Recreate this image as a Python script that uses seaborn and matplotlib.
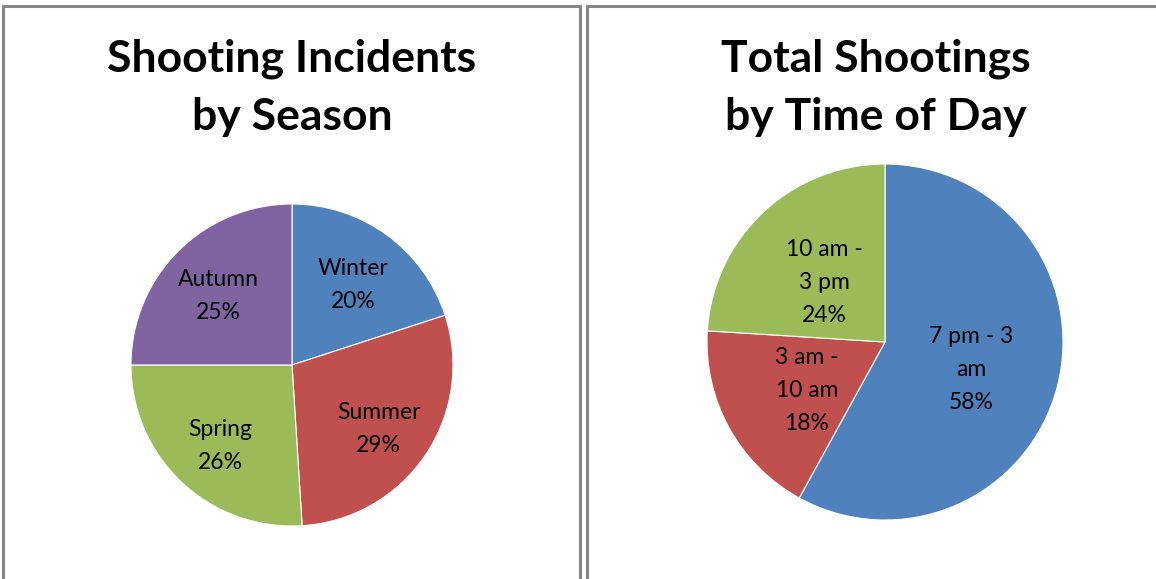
import numpy as np
import matplotlib
matplotlib.use("Agg")
import matplotlib.pyplot as plt
import seaborn as sns
from matplotlib.patches import Rectangle

####Data#######################################################################
season_labels = ["Winter", "Summer", "Spring", "Autumn"]
season_pct = [20, 29, 26, 25]
season_colors = ["#4F81BD", "#C0504D", "#9BBB59", "#8064A2"]

time_labels = ["7 pm - 3\nam", "3 am -\n10 am", "10 am -\n3 pm"]
time_pct = [58, 18, 24]
time_colors = ["#4F81BD", "#C0504D", "#9BBB59"]

####Style######################################################################
sns.set_theme(style="white")
plt.rcParams['font.family'] = ['Lato', 'DejaVu Sans']

W, H = 1156, 579
fig = plt.figure(figsize=(W / 100, H / 100), dpi=100)
fig.patch.set_facecolor("white")

# panel frames (bottom / right edges run off the picture)
for x0, x1 in [(3, 580), (587, 1170)]:
    fig.patches.append(Rectangle((x0 / W, -0.05), (x1 - x0) / W, 1 - 6 / H + 0.05,
                                 transform=fig.transFigure, fill=False,
                                 edgecolor="#878787", linewidth=2.2))


def draw_pie(cx, cy, r, values, labels, colors, dist, title, tx):
    ax = fig.add_axes([(cx - r) / W, 1 - (cy + r) / H, 2 * r / W, 2 * r / H])
    wedges, _ = ax.pie(values, colors=colors, startangle=90, counterclock=False,
                       wedgeprops=dict(edgecolor="white", linewidth=0.8))
    for w, lab, v in zip(wedges, labels, values):
        ang = np.deg2rad((w.theta1 + w.theta2) / 2)
        ax.text(dist * np.cos(ang), dist * np.sin(ang) - 0.03, f"{lab}\n{v}%",
                ha="center", va="center", fontsize=16.5, linespacing=1.7,
                color="black")
    ax.set_xlim(-1, 1)
    ax.set_ylim(-1, 1)
    ax.set_aspect("equal")
    ax.axis("off")
    fig.text(tx / W, 1 - 88 / H, title, ha="center", va="center",
             fontsize=32, fontweight="bold", linespacing=1.55, color="black")


draw_pie(292, 365, 161, season_pct, season_labels, season_colors, 0.65,
         "Shooting Incidents\nby Season", 292)
draw_pie(885, 342, 178, time_pct, time_labels, time_colors, 0.5,
         "Total Shootings\nby Time of Day", 876)

plt.savefig("out.png", dpi=100)
